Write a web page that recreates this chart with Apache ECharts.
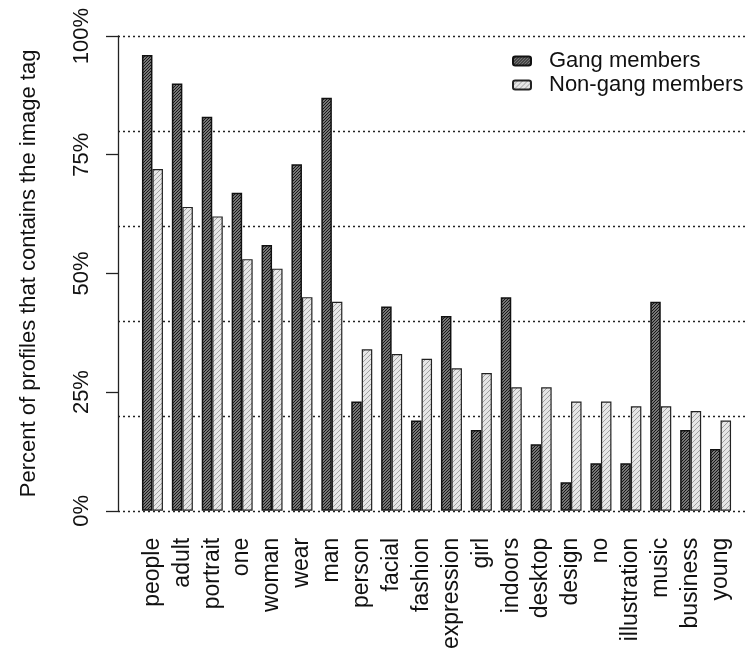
<!DOCTYPE html>
<html>
<head>
<meta charset="utf-8">
<script src="https://cdn.jsdelivr.net/npm/echarts@6/dist/echarts.min.js"></script>
<style>html,body{margin:0;padding:0;background:#fff}#c{width:746px;height:652px}</style>
</head>
<body>
<div id="c"></div>
<script>
var categories = ['people','adult','portrait','one','woman','wear','man','person','facial','fashion','expression','girl','indoors','desktop','design','no','illustration','music','business','young'];
var gang = [96,90,83,67,56,73,87,23,43,19,41,17,45,14,6,10,10,44,17,13];
var nonGang = [72,64,62,53,51,45,44,34,33,32,30,29,26,26,23,23,22,22,21,19];
var yTicks = [0,25,50,75,100];
var gridTicks = [0,20,40,60,80,100];

function hatch(size, bg, fg, lw){
  var c = document.createElement('canvas');
  c.width = size; c.height = size;
  var g = c.getContext('2d');
  g.fillStyle = bg; g.fillRect(0,0,size,size);
  g.strokeStyle = fg; g.lineWidth = lw;
  g.beginPath();
  g.moveTo(0,size); g.lineTo(size,0);
  g.moveTo(-1,1); g.lineTo(1,-1);
  g.moveTo(size-1,size+1); g.lineTo(size+1,size-1);
  g.stroke();
  return c;
}
var font = 'Liberation Sans, Arial, sans-serif';
var chart = echarts.init(document.getElementById('c'));
chart.setOption({
  animation:false,
  backgroundColor:'#fff',
  textStyle:{fontFamily:font},
  grid:[
    {left:118, right:0, top:36, bottom:141},
    {left:137.5, width:598, top:36, bottom:141}
  ],
  legend:{
    orient:'vertical', left:507, top:45, itemWidth:18, itemHeight:9, itemGap:2,
    textStyle:{fontSize:22, color:'#111', fontFamily:font, padding:[0,0,0,13]},
    data:['Gang members','Non-gang members']
  },
  xAxis:[
    {gridIndex:0, type:'value', show:false, min:0, max:1},
    {gridIndex:1, type:'category', data:categories,
     axisLine:{show:false}, axisTick:{show:false},
     axisLabel:{rotate:90, margin:27, fontSize:23, color:'#111', interval:0, fontFamily:font}}
  ],
  yAxis:[
    {gridIndex:0, type:'value', min:0, max:100, interval:20,
     axisLine:{show:false}, axisTick:{show:false}, axisLabel:{show:false},
     splitLine:{show:true, lineStyle:{type:[2,3], color:'#222', width:1.3}}},
    {gridIndex:1, type:'value', min:0, max:100, interval:25, offset:19.5,
     name:'Percent of profiles that contains the image tag', nameLocation:'middle', nameGap:78,
     nameTextStyle:{fontSize:22, color:'#111', fontFamily:font},
     axisLine:{show:true, lineStyle:{color:'#222', width:1.3}},
     axisTick:{show:true, length:12, lineStyle:{color:'#222', width:1.3}},
     splitLine:{show:false},
     axisLabel:{rotate:90, margin:25, fontSize:22, color:'#111', fontFamily:font,
       formatter:function(v){return v+'%';}}}
  ],
  series:[
    {name:'Gang members', type:'bar', xAxisIndex:1, yAxisIndex:1, data:gang,
     barWidth:10.5, barGap:'0%',
     itemStyle:{color:{image:hatch(3,'#a0a0a0','#111',1.1), repeat:'repeat'}, borderColor:'#111', borderWidth:1.5}},
    {name:'Non-gang members', type:'bar', xAxisIndex:1, yAxisIndex:1, data:nonGang,
     barWidth:10.5, barGap:'0%',
     itemStyle:{color:{image:hatch(5,'#e6e6e6','#a0a0a0',1), repeat:'repeat'}, borderColor:'#222', borderWidth:1.2}}
  ]
});
</script>
</body>
</html>
